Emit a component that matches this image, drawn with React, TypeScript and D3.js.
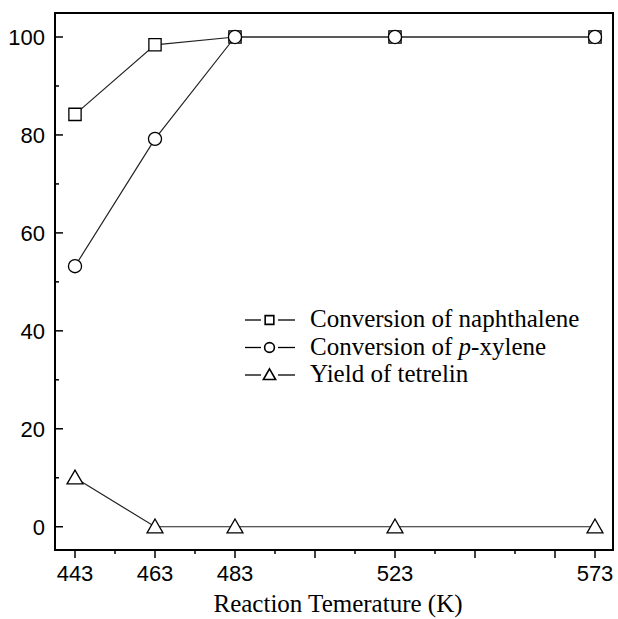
import React, { useRef, useEffect } from 'react'
import * as d3 from 'd3'

const temps = [443, 463, 483, 523, 573]
const naphthalene = [84.2, 98.4, 100, 100, 100]
const pXylene = [53.2, 79.2, 100, 100, 100]
const tetralin = [10, 0, 0, 0, 0]
const xTickLabels = [443, 463, 483, 523, 573]
const yTickLabels = [0, 20, 40, 60, 80, 100]
const legendNames = ['Conversion of naphthalene', 'Conversion of ', 'Yield of tetrelin']

const App = () => {
  const ref = useRef<SVGSVGElement>(null)

  useEffect(() => {
    const svg = d3.select(ref.current)
    svg.selectAll('*').remove()

    const margin = { left: 55, top: 13, right: 613, bottom: 550 }
    const x = d3.scaleLinear().domain([438, 577.5]).range([margin.left, margin.right])
    const y = d3.scaleLinear().domain([-4.75, 104.9]).range([margin.bottom, margin.top])

    const serif = 'Liberation Serif'
    const sans = 'Liberation Sans'

    // x axis ticks (outward), major every 20 plus 573, minor every 10
    const xTicks = d3.range(443, 574, 10)
    xTicks.forEach(t => {
      const major = (t - 443) % 20 === 0 || t === 573
      svg.append('line')
        .attr('x1', x(t)).attr('x2', x(t))
        .attr('y1', margin.bottom).attr('y2', margin.bottom + (major ? 8 : 4))
        .attr('stroke', '#000').attr('stroke-width', 1.5)
    })
    xTickLabels.forEach(t => {
      svg.append('text')
        .attr('x', x(t)).attr('y', margin.bottom + 31)
        .attr('text-anchor', 'middle')
        .attr('font-family', sans)
        .attr('font-size', 22)
        .text(t)
    })

    // y axis ticks (inward)
    d3.range(0, 101, 10).forEach(t => {
      const major = t % 20 === 0
      svg.append('line')
        .attr('x1', margin.left).attr('x2', margin.left + (major ? 8 : 4))
        .attr('y1', y(t)).attr('y2', y(t))
        .attr('stroke', '#000').attr('stroke-width', 1.5)
    })
    yTickLabels.forEach(t => {
      svg.append('text')
        .attr('x', margin.left - 10).attr('y', y(t) + 8)
        .attr('text-anchor', 'end')
        .attr('font-family', sans)
        .attr('font-size', 22)
        .text(t)
    })

    // frame
    svg.append('rect')
      .attr('x', margin.left).attr('y', margin.top)
      .attr('width', margin.right - margin.left).attr('height', margin.bottom - margin.top)
      .attr('fill', 'none').attr('stroke', '#000').attr('stroke-width', 2)

    const line = d3.line<[number, number]>().x(d => x(d[0])).y(d => y(d[1]))
    const series = [naphthalene, pXylene, tetralin]
    const symbols = [d3.symbolSquare, d3.symbolCircle, d3.symbolTriangle]
    const symSizes = [150, 135, 110]
    const legendSizes = [75, 75, 65]

    series.forEach((s, i) => {
      const pts = temps.map((t, j) => [t, s[j]] as [number, number])
      svg.append('path')
        .attr('d', line(pts))
        .attr('fill', 'none').attr('stroke', '#222').attr('stroke-width', 1.2)
      svg.selectAll('.m' + i)
        .data(pts)
        .enter()
        .append('path')
        .attr('d', d3.symbol().type(symbols[i]).size(symSizes[i]))
        .attr('transform', d => `translate(${x(d[0])},${y(d[1]) + (i === 2 ? 1.5 : 0)})`)
        .attr('fill', '#fff').attr('stroke', '#000').attr('stroke-width', 1.3)
    })

    // legend
    const lg = svg.append('g').attr('transform', 'translate(245,320)')
    legendNames.forEach((name, i) => {
      const ly = i * 27.5
      lg.append('line').attr('x1', 0).attr('x2', 16).attr('y1', ly).attr('y2', ly)
        .attr('stroke', '#000').attr('stroke-width', 1.3)
      lg.append('line').attr('x1', 33).attr('x2', 50).attr('y1', ly).attr('y2', ly)
        .attr('stroke', '#000').attr('stroke-width', 1.3)
      lg.append('path')
        .attr('d', d3.symbol().type(symbols[i]).size(legendSizes[i]))
        .attr('transform', `translate(24.5,${ly + (i === 2 ? 1 : 0)})`)
        .attr('fill', '#fff').attr('stroke', '#000').attr('stroke-width', 1.6)
      const txt = lg.append('text')
        .attr('x', 65).attr('y', ly + 7)
        .attr('font-family', serif)
        .attr('font-size', 25)
      txt.append('tspan').text(name)
      if (i === 1) {
        txt.append('tspan').attr('font-style', 'italic').text('p')
        txt.append('tspan').text('-xylene')
      }
    })

    svg.append('text')
      .attr('x', 338).attr('y', 612)
      .attr('text-anchor', 'middle')
      .attr('font-family', serif)
      .attr('font-size', 25)
      .text('Reaction Temerature (K)')
  }, [])

  return (
    <svg
      ref={ref}
      width={618}
      height={619}
      style={{ position: 'absolute', left: 0, top: 0, background: '#fff' }}
    />
  )
}

export default App
